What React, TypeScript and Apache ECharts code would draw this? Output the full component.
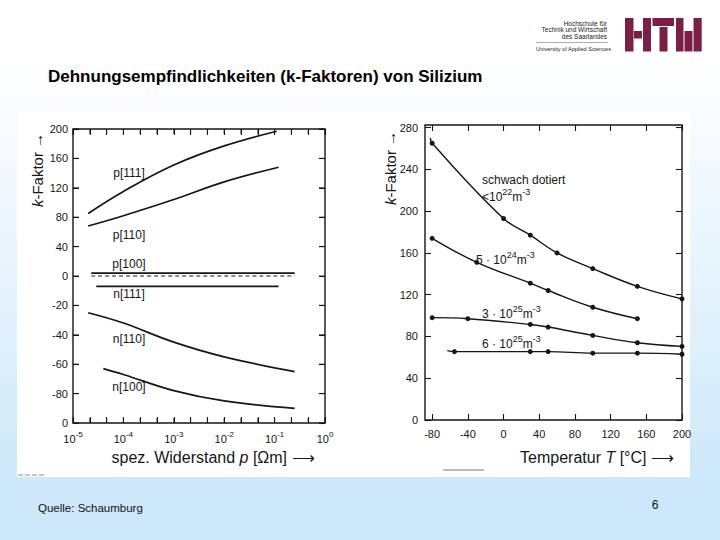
import React, { useEffect, useRef } from 'react';
import * as echarts from 'echarts';

const FONT = '"Liberation Sans", Arial, Helvetica, sans-serif';
const INK = '#161616';

// ---------- Left chart: k-factor vs. resistivity (x drawn on a decade axis) ----------
const leftYTickLabels = ['0', '-80', '-60', '-40', '-20', '0', '40', '80', '120', '160', '200'];
const leftYTicks = [0, 1, 2, 3, 4, 5, 6, 7, 8, 9, 10];
const decadeLabels = [-5, -4, -3, -2, -1, 0];
const decadeTicks = [-5, -4.667, -4.333, -4, -3.667, -3.333, -3, -2.667, -2.333, -2, -1.667, -1.333, -1, -0.667, -0.333, 0];
const p111 = [[2e-5, 85], [1e-4, 115], [1e-3, 151], [1e-2, 177], [0.11, 197]];
const p110 = [[2e-5, 68], [1e-4, 82], [1e-3, 104], [1e-2, 128], [0.12, 148]];
const p100 = [[2.3e-5, 4], [0.25, 4]];
const zeroRef = [[2.3e-5, 0], [0.25, 0]];
const n111 = [[2.9e-5, -7], [0.12, -7]];
const n110 = [[2e-5, -25], [1e-4, -32], [1e-3, -45], [1e-2, -55], [0.25, -65]];
const n100 = [[4e-5, -63], [1e-4, -67], [1e-3, -78], [1e-2, -85], [0.25, -90]];

// ---------- Right chart: k-factor vs. temperature ----------
const tempTicks = [-80, -40, 0, 40, 80, 120, 160, 200];
const kTicks = [0, 40, 80, 120, 160, 200, 240, 280];
const schwach = [[-80, 265], [0, 193], [30, 177], [60, 160], [100, 145], [150, 128], [200, 116]];
const dot5e24 = [[-80, 174], [-30, 151], [30, 131], [50, 124], [100, 108], [150, 97]];
const dot3e25 = [[-80, 98], [-40, 97], [30, 91.5], [50, 89], [100, 81], [150, 74], [200, 70.5]];
const dot6e25 = [[-55, 65.5], [30, 65.5], [50, 65.5], [100, 64], [150, 64], [200, 63]];

// the original plot uses 40 per division above 0 and 20 per division below 0
function kToAxis(v: number) {
  return v >= 0 ? 5 + v / 40 : 5 + v / 20;
}

const tickLabelStyle = { fontFamily: FONT, fontSize: 11, color: INK };

export default function App() {
  const ref = useRef<HTMLDivElement>(null);
  useEffect(() => {
    if (!ref.current) return;
    const chart = echarts.init(ref.current, null, { renderer: 'svg' });

    const leftLine = (data: number[][], dashed = false) => ({
      type: 'line',
      xAxisIndex: 0,
      yAxisIndex: 0,
      data: data.map(([x, v]) => [Math.log10(x), kToAxis(v)]),
      showSymbol: false,
      smooth: 0.4,
      silent: true,
      lineStyle: { color: INK, width: dashed ? 1 : 1.7, type: dashed ? [4, 3] : 'solid' },
    });
    const rightLine = (data: number[][], lead?: number[]) => ({
      type: 'line',
      xAxisIndex: 2,
      yAxisIndex: 2,
      data: [
        ...(lead ? [{ value: lead, symbol: 'none' }] : []),
        ...data.map((d) => ({ value: d })),
      ],
      symbol: 'circle',
      symbolSize: 5,
      smooth: 0.4,
      silent: true,
      itemStyle: { color: INK },
      lineStyle: { color: INK, width: 1.4 },
    });
    // tick marks of the left frame, placed through the chart's own scales
    const tickMarks = (data: number[][], size: number[], offset: number[]) => ({
      type: 'scatter',
      xAxisIndex: 0,
      yAxisIndex: 0,
      data,
      symbol: 'rect',
      symbolSize: size,
      symbolOffset: offset,
      silent: true,
      clip: false,
      itemStyle: { color: INK },
      z: 3,
    });

    const txt = (text: string, x: number, y: number, extra: any = {}, elExtra: any = {}) => ({
      type: 'text',
      x,
      y,
      silent: true,
      ...elExtra,
      style: {
        text,
        fontFamily: FONT,
        fontSize: 12,
        fill: INK,
        align: 'left',
        verticalAlign: 'middle',
        ...extra,
      },
    });

    const supRich = (size: number) => ({
      a: { fontFamily: FONT, fontSize: size, fill: INK, color: INK, verticalAlign: 'bottom' },
      s: { fontFamily: FONT, fontSize: size - 3, fill: INK, color: INK, padding: [0, 0, 6, 0], verticalAlign: 'top' },
    });

    const maroon = '#7b1f46';
    const r = (x: number, y: number, w: number, h: number) => ({
      type: 'rect',
      shape: { x, y, width: w, height: h },
      style: { fill: maroon },
      silent: true,
    });

    const noLine = () => ({ show: false, onZero: false });
    const tick = (customValues: number[]) => ({
      show: true, inside: true, length: 6, customValues, lineStyle: { color: INK, width: 1.1 },
    });

    const option: any = {
      animation: false,
      backgroundColor: 'transparent',
      grid: [
        { left: 73, top: 129, width: 252, height: 294, show: true, borderColor: INK, borderWidth: 1.4, backgroundColor: 'transparent' },
        { left: 425, top: 125, width: 257, height: 295, show: true, borderColor: INK, borderWidth: 1.4, backgroundColor: 'transparent' },
      ],
      xAxis: [
        {
          type: 'value', gridIndex: 0, min: -5, max: 0,
          axisLine: noLine(),
          axisTick: tick(decadeTicks),
          splitLine: { show: false },
          axisLabel: {
            margin: 7,
            customValues: decadeLabels,
            formatter: (v: number) => `{a|10}{s|${Math.round(v)}}`,
            rich: supRich(11),
          },
        },
        {
          type: 'value', gridIndex: 0, min: -5, max: 0, position: 'top',
          axisLine: noLine(),
          axisTick: tick(decadeTicks),
          splitLine: { show: false },
          axisLabel: { show: false, customValues: decadeLabels },
        },
        {
          type: 'value', gridIndex: 1, min: -88, max: 200,
          axisLine: noLine(),
          axisTick: tick(tempTicks),
          splitLine: { show: false },
          axisLabel: { ...tickLabelStyle, margin: 8, customValues: tempTicks },
        },
        {
          type: 'value', gridIndex: 1, min: -88, max: 200, position: 'top',
          axisLine: noLine(),
          axisTick: tick(tempTicks),
          splitLine: { show: false },
          axisLabel: { show: false, customValues: tempTicks },
        },
      ],
      yAxis: [
        {
          type: 'value', gridIndex: 0, min: 0, max: 10,
          axisLine: noLine(),
          axisTick: tick(leftYTicks),
          splitLine: { show: false },
          axisLabel: { ...tickLabelStyle, margin: 5, customValues: leftYTicks, formatter: (v: number) => leftYTickLabels[Math.round(v)] },
        },
        {
          type: 'value', gridIndex: 0, min: 0, max: 10, position: 'right',
          axisLine: noLine(),
          axisTick: tick(leftYTicks),
          splitLine: { show: false },
          axisLabel: { show: false, customValues: leftYTicks },
        },
        {
          type: 'value', gridIndex: 1, min: 0, max: 282.5,
          axisLine: noLine(),
          axisTick: tick(kTicks),
          splitLine: { show: false },
          axisLabel: { ...tickLabelStyle, margin: 7, customValues: kTicks },
        },
        {
          type: 'value', gridIndex: 1, min: 0, max: 282.5, position: 'right',
          axisLine: noLine(),
          axisTick: tick(kTicks),
          splitLine: { show: false },
          axisLabel: { show: false, customValues: kTicks },
        },
      ],
      series: [
        leftLine(p111),
        leftLine(p110),
        leftLine(p100),
        leftLine(zeroRef, true),
        leftLine(n111),
        leftLine(n110),
        leftLine(n100),
        rightLine(schwach, [-82, 270]),
        rightLine(dot5e24),
        rightLine(dot3e25),
        rightLine(dot6e25, [-63, 66.5]),
        tickMarks(leftYTicks.map((v) => [-5, v]), [6, 1.1], [3, 0]),
        tickMarks(leftYTicks.map((v) => [0, v]), [6, 1.1], [-3, 0]),
        tickMarks(decadeTicks.map((v) => [v, 0]), [1.1, 5], [0, -2.5]),
        tickMarks(decadeTicks.map((v) => [v, 10]), [1.1, 5], [0, 2.5]),
      ],
      graphic: [
        // scanned figure background
        { type: 'rect', z: -10, silent: true, shape: { x: 17, y: 112, width: 673, height: 365 }, style: { fill: '#ffffff' } },
        { type: 'line', z: -5, silent: true, shape: { x1: 18, y1: 475, x2: 45, y2: 475 }, style: { stroke: '#888', lineWidth: 1, lineDash: [5, 2] } },
        { type: 'line', z: -5, silent: true, shape: { x1: 443, y1: 470, x2: 484, y2: 470 }, style: { stroke: '#777', lineWidth: 1 } },

        // header
        txt('Dehnungsempfindlichkeiten (k-Faktoren) von Silizium', 48, 76, { fontSize: 17, fontWeight: 'bold', fill: '#000' }),

        // logo text
        txt('Hochschule für', 607, 23, { fontSize: 6.5, align: 'right', fill: '#222' }),
        txt('Technik und Wirtschaft', 607, 29.5, { fontSize: 6.5, align: 'right', fill: '#222' }),
        txt('des Saarlandes', 607, 36, { fontSize: 6.5, align: 'right', fill: '#222' }),
        { type: 'line', silent: true, shape: { x1: 536, y1: 42.5, x2: 608, y2: 42.5 }, style: { stroke: '#999', lineWidth: 0.8 } },
        txt('University of Applied Sciences', 536, 48.5, { fontSize: 5.6, fill: '#222' }),
        // HTW logo
        r(625, 18, 8.5, 33.5), r(634, 31, 8, 7.5), r(643, 18, 8, 33.5),
        r(652.5, 18, 21.5, 8), r(659.5, 27, 8, 24.5),
        r(676, 18, 7.5, 33.5), r(684.5, 31, 8, 20.5), r(693.5, 18, 8.2, 33.5),

        // left chart annotations
        txt('p[111]', 129, 173, { align: 'center' }),
        txt('p[110]', 129, 235, { align: 'center' }),
        txt('p[100]', 129, 264, { align: 'center' }),
        txt('n[111]', 129, 294, { align: 'center' }),
        txt('n[110]', 129, 339, { align: 'center' }),
        txt('n[100]', 129, 387, { align: 'center' }),
        txt('{i|k}{n|-Faktor →}', 37, 170, {
          align: 'center',
          rich: { i: { fontFamily: FONT, fontSize: 15, fontStyle: 'italic', fill: INK }, n: { fontFamily: FONT, fontSize: 15, fill: INK } },
        }, { rotation: Math.PI / 2 }),
        txt('{n|spez. Widerstand }{i|p}{n| [Ωm] ⟶}', 213, 457, {
          align: 'center',
          rich: { i: { fontFamily: FONT, fontSize: 16, fontStyle: 'italic', fill: INK }, n: { fontFamily: FONT, fontSize: 16, fill: INK } },
        }),

        // right chart annotations
        txt('schwach dotiert', 482, 179.5),
        txt('{a|<10}{s|22}{a|m}{s|-3}', 482, 195, { rich: supRich(12) }),
        txt('{a|5 · 10}{s|24}{a|m}{s|-3}', 476, 258, { rich: supRich(12) }),
        txt('{a|3 · 10}{s|25}{a|m}{s|-3}', 482, 312, { rich: supRich(12) }),
        txt('{a|6 · 10}{s|25}{a|m}{s|-3}', 482, 342, { rich: supRich(12) }),
        txt('{i|k}{n|-Faktor →}', 390, 168, {
          align: 'center',
          rich: { i: { fontFamily: FONT, fontSize: 15, fontStyle: 'italic', fill: INK }, n: { fontFamily: FONT, fontSize: 15, fill: INK } },
        }, { rotation: Math.PI / 2 }),
        txt('{n|Temperatur }{i|T}{n| [°C] ⟶}', 597, 457, {
          align: 'center',
          rich: { i: { fontFamily: FONT, fontSize: 16, fontStyle: 'italic', fill: INK }, n: { fontFamily: FONT, fontSize: 16, fill: INK } },
        }),

        // footer
        txt('Quelle: Schaumburg', 38, 508, { fontSize: 11.5, fill: '#111' }),
        txt('6', 655, 505, { fontSize: 12, fill: '#111', align: 'center' }),
      ],
    };

    chart.setOption(option);
    return () => chart.dispose();
  }, []);

  return (
    <div
      ref={ref}
      style={{
        position: 'absolute',
        left: 0,
        top: 0,
        width: 720,
        height: 540,
        background: 'linear-gradient(180deg, #ffffff 0%, #ffffff 11%, #cde8fa 89%, #cce8fa 100%)',
      }}
    />
  );
}
